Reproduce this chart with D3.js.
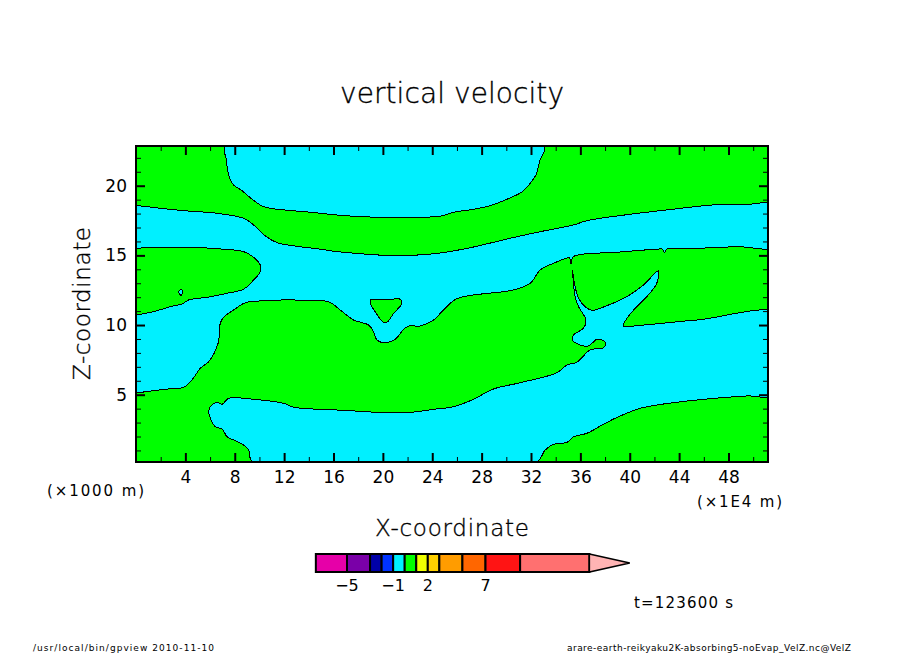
<!DOCTYPE html>
<html>
<head>
    <title>vertical velocity</title>
    <script src="https://d3js.org/d3.v7.min.js"></script>
    <style>
        body { margin: 0; background: #fff; }
        text { font-family: "DejaVu Sans", sans-serif; fill: #000; }
        text.big { font-weight: 200; stroke: #000; stroke-width: 0.35; }
    </style>
</head>
<body>
    <div id="graph"></div>

    <script>
        // contour boundaries, [x (1E4 m), z (1000 m)]
        // points past the plot edges get clipped, they keep the curve straight at the frame
        var xDomain = [0, 51.2];
        var zDomain = [0.17, 22.85];

        var topCyan = [[7.26,22.85],[7.32,21.85],[7.54,20.65],[7.91,20.05],[8.59,19.64],[9.40,19.03],[10.21,18.55],[10.88,18.38],
            [12.23,18.24],[13.85,18.12],[16.01,17.92],[17.63,17.81],[19.79,17.73],[22.22,17.73],[24.65,17.81],[25.72,18.09],
            [27.34,18.31],[28.70,18.57],[30.05,19.03],[31.26,19.55],[31.94,20.18],[32.40,20.77],[32.74,21.85],[33.09,22.85]];

        var middleCyan = [[-1,18.62],[0.3,18.55],[2.24,18.35],[4.14,18.19],[6.57,18.02],[8.72,17.66],[9.53,17.18],[10.48,16.39],[11.43,15.91],
            [13.04,15.65],[14.66,15.48],[16.28,15.27],[18.44,15.10],[20.06,15.01],[22.49,15.01],[24.65,15.17],[27.08,15.55],
            [30.32,16.23],[32.74,16.70],[35.44,17.18],[36.53,17.49],[39.77,17.92],[43.00,18.26],[47.05,18.64],[49.5,18.66],[52.5,18.66],
            [52.5,15.66],[48.67,15.62],[44.75,15.48],[43.00,15.44],[42.81,15.19],[42.66,15.44],[42.19,15.44],[38.96,15.22],
            [35.44,14.91],[35.23,14.38],[35.12,14.81],[33.82,14.43],[32.74,13.95],[31.94,13.00],[30.58,12.52],[26.00,11.89],
            [24.91,11.08],[24.11,10.36],[23.03,9.93],[22.08,9.93],[21.63,9.64],[21.00,8.98],[20.19,8.73],[19.52,8.93],
            [19.25,9.52],[18.84,10.00],[17.63,10.36],[16.55,11.08],[15.60,11.68],[14.66,11.73],[12.50,11.80],[10.07,11.73],
            [8.86,11.60],[7.91,11.08],[7.10,10.56],[6.83,10.13],[6.65,8.69],[5.89,7.37],[5.21,6.90],[4.54,6.06],[3.86,5.53],
            [2.79,5.43],[1.43,5.29],[0.3,5.16],[-1,5.07],[-1,10.55],[0.3,10.76],[1.43,10.96],[2.79,11.32],[3.73,11.51],[4.27,11.80],[5.76,11.99],
            [7.38,12.28],[8.72,12.57],[9.40,13.11],[10.07,13.83],[10.07,14.31],[9.53,14.86],[8.72,15.27],[6.83,15.46],
            [4.54,15.58],[1.17,15.58],[-1,15.65]];

        var lowerCyan = [[5.89,3.78],[6.02,4.14],[6.57,4.45],[6.97,4.31],[7.51,4.74],[9.53,4.67],[11.96,4.38],[12.77,4.10],
            [14.93,3.95],[16.28,3.90],[18.17,3.81],[20.06,3.71],[21.95,3.71],[24.11,3.95],[25.72,4.14],[27.34,4.67],[28.96,5.41],
            [31.13,5.86],[34.10,6.58],[34.91,7.13],[35.72,7.33],[36.79,8.21],[37.87,8.37],[38.06,8.62],[37.87,8.88],[37.34,8.98],
            [36.66,8.50],[35.98,8.57],[35.36,8.93],[35.44,9.29],[36.25,9.77],[36.45,10.36],[35.85,11.32],[35.58,12.04],
            [35.44,13.00],[35.36,13.95],[35.47,13.23],[35.85,11.92],[36.39,11.32],[36.93,11.06],[38.28,11.44],[39.77,12.04],
            [41.11,12.88],[42.32,13.88],[42.19,13.00],[41.38,12.04],[40.44,11.20],[39.77,10.48],[39.49,9.93],[40.84,9.98],
            [45.43,10.36],[52.5,10.72],[52.5,4.98],[49.48,4.91],[45.97,4.67],[42.19,4.26],[40.84,4.02],[39.09,3.42],[37.87,2.88],
            [36.53,2.23],[35.44,1.98],[34.91,1.58],[33.82,1.44],[33.15,1.03],[32.42,0.17],[9.45,0.17],[9.13,1.03],[8.72,1.39],
            [7.91,1.75],[7.38,1.98],[6.97,2.54],[6.43,2.70],[6.02,3.31]];

        var greenIsland = [[18.98,11.80],[20.19,11.80],[21.41,11.85],[21.55,11.56],[20.87,10.84],[20.33,10.20],[19.98,10.24],
            [19.38,10.96],[19.04,11.44]];

        var tinyCyan = [[3.65,12.57],[3.78,12.35],[3.65,12.14],[3.46,12.35]];

        var xMajor = [4, 8, 12, 16, 20, 24, 28, 32, 36, 40, 44, 48];
        var xMinor = [2, 6, 10, 14, 18, 22, 26, 30, 34, 38, 42, 46, 50];
        var zMajor = [5, 10, 15, 20];
        var zMinor = [1, 2, 3, 4, 6, 7, 8, 9, 11, 12, 13, 14, 16, 17, 18, 19, 21, 22];

        // colour bar
        var barLevels = [-7.7, -5, -3, -2, -1, 0, 1, 2, 3, 5, 7, 10, 16];
        var barColors = ["#e600a8", "#7a00a8", "#0000a8", "#0033ff", "#00f0ff", "#00ff00", "#f0ff00", "#ffd000",
            "#ff9c00", "#ff6600", "#ff1414", "#ff7070"];
        var barLabels = [-5, -1, 2, 7];
        var barTip = 19.5;

        var green = "#00ff00", cyan = "#00f0ff";

        var svg = d3.select("#graph").append("svg")
            .attr("width", 904)
            .attr("height", 654)
            .style("display", "block");

        var x = d3.scaleLinear().domain(xDomain).range([136, 768]);
        var z = d3.scaleLinear().domain(zDomain).range([462, 146]);

        var line = d3.line()
            .x(function(d) { return x(d[0]); })
            .y(function(d) { return z(d[1]); })
            .curve(d3.curveCatmullRomClosed.alpha(0.5));

        svg.append("clipPath").attr("id", "plot").append("rect")
            .attr("x", 136)
            .attr("y", 146)
            .attr("width", 632)
            .attr("height", 316);

        var field = svg.append("g").attr("clip-path", "url(#plot)");

        field.append("rect")
            .attr("x", x(xDomain[0]))
            .attr("y", z(zDomain[1]))
            .attr("width", x(xDomain[1]) - x(xDomain[0]))
            .attr("height", z(zDomain[0]) - z(zDomain[1]))
            .attr("fill", green);

        var regions = [
            { points: topCyan, color: cyan },
            { points: middleCyan, color: cyan },
            { points: lowerCyan, color: cyan },
            { points: greenIsland, color: green },
            { points: tinyCyan, color: cyan }
        ];

        field.selectAll("path.region").data(regions).enter().append("path")
            .attr("class", "region")
            .attr("d", function(d) { return line(d.points); })
            .attr("fill", function(d) { return d.color; })
            .attr("stroke", "#000")
            .attr("stroke-width", 1)
            .attr("shape-rendering", "crispEdges");

        // axes, ticks point into the plot
        function drawAxis(axis, transform, values, length, width, labels) {
            var g = svg.append("g")
                .attr("transform", transform)
                .call(axis.tickValues(values).tickSizeInner(length).tickSizeOuter(0).tickPadding(9)
                    .tickFormat(labels ? d3.format("d") : ""));
            g.select(".domain").remove();
            g.selectAll("line").attr("stroke", "#000").attr("stroke-width", width);
            g.selectAll("text").attr("font-family", "DejaVu Sans").attr("font-size", 17);
        }

        drawAxis(d3.axisBottom(x), "translate(0,462)", xMajor, -9, 2, true);
        drawAxis(d3.axisBottom(x), "translate(0,462)", xMinor, -5, 1, false);
        drawAxis(d3.axisTop(x), "translate(0,146)", xMajor, -9, 2, false);
        drawAxis(d3.axisTop(x), "translate(0,146)", xMinor, -5, 1, false);
        drawAxis(d3.axisLeft(z), "translate(136,0)", zMajor, -9, 2, true);
        drawAxis(d3.axisLeft(z), "translate(136,0)", zMinor, -5, 1, false);
        drawAxis(d3.axisRight(z), "translate(768,0)", zMajor, -9, 2, false);
        drawAxis(d3.axisRight(z), "translate(768,0)", zMinor, -5, 1, false);

        svg.append("rect")
            .attr("x", 136)
            .attr("y", 146)
            .attr("width", 632)
            .attr("height", 316)
            .attr("fill", "none")
            .attr("stroke", "#000")
            .attr("stroke-width", 2);

        // colour bar
        var bar = d3.scaleLinear().domain([-5, 7]).range([347, 485.5]);

        svg.selectAll("rect.cell").data(barColors).enter().append("rect")
            .attr("class", "cell")
            .attr("x", function(d, i) { return bar(barLevels[i]); })
            .attr("y", 554)
            .attr("width", function(d, i) { return bar(barLevels[i + 1]) - bar(barLevels[i]); })
            .attr("height", 18)
            .attr("fill", function(d) { return d; })
            .attr("stroke", "#000")
            .attr("stroke-width", 2);

        var tipStart = bar(barLevels[barLevels.length - 1]);
        svg.append("path")
            .attr("d", "M" + tipStart + ",554L" + bar(barTip) + ",563L" + tipStart + ",572Z")
            .attr("fill", "#ffb4b4")
            .attr("stroke", "#000")
            .attr("stroke-width", 1.5);

        function label(str, px, py, size, width, cls) {
            return svg.append("text")
                .attr("class", cls || null)
                .attr("x", px)
                .attr("y", py)
                .attr("font-size", size)
                .attr("textLength", width)
                .attr("lengthAdjust", "spacing")
                .text(str);
        }

        svg.selectAll("text.barlabel").data(barLabels).enter().append("text")
            .attr("class", "barlabel")
            .attr("x", function(d) { return bar(d); })
            .attr("y", 591)
            .attr("font-size", 16)
            .attr("text-anchor", "middle")
            .text(function(d) { return d < 0 ? "\u2212" + (-d) : d; });

        label("vertical velocity", 340, 103, 28, 224, "big");
        label("X-coordinate", 375, 536, 23, 154, "big");
        label("(\u00d71000 m)", 47, 496, 15, 97);
        label("(\u00d71E4 m)", 697, 507, 15, 85);
        label("t=123600 s", 634, 608, 15, 99);
        label("/usr/local/bin/gpview   2010-11-10", 33, 651, 9, 181);
        label("arare-earth-reikyaku2K-absorbing5-noEvap_VelZ.nc@VelZ", 567, 651, 9, 284);

        svg.append("text")
            .attr("class", "big")
            .attr("transform", "translate(90,380) rotate(-90)")
            .attr("font-size", 23)
            .attr("textLength", 153)
            .attr("lengthAdjust", "spacing")
            .text("Z-coordinate");
    </script>
</body>
</html>
